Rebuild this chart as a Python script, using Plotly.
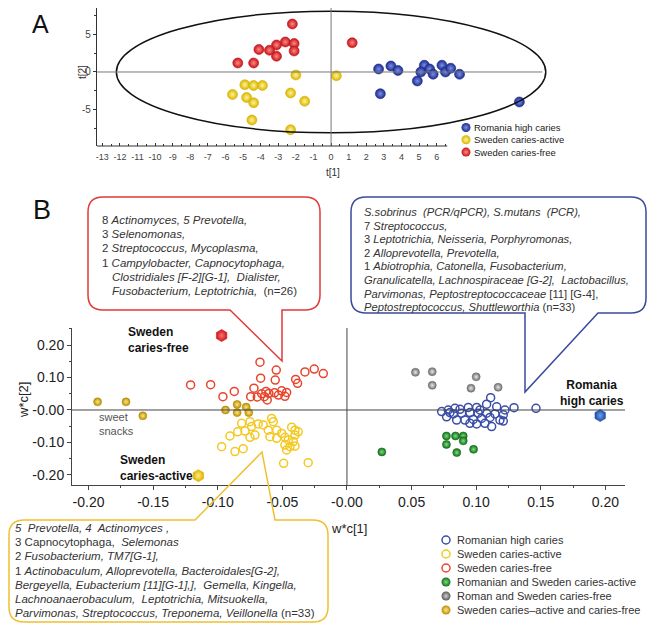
import plotly.graph_objects as go

W, H = 655, 626
OFF = 8  # page body margin of the browser
FONT = "Liberation Sans, Arial, sans-serif"

# ---------------- Panel A data (scores) ----------------
a_red_x = [-2.2, 1.2, -2.6, -2.1, -3.1, -4.1, -3.5, -2.1, -3.1, -5.3, -4.4]
a_red_y = [6.4, 3.9, 4.0, 3.8, 3.6, 3.0, 2.9, 2.8, 2.1, 1.2, 1.2]
a_yel_x = [-2.0, 0.3, -4.9, -4.4, -3.9, -5.6, -4.8, -4.4, -2.3, -1.5, -4.5, -2.3]
a_yel_y = [-0.4, -0.5, -1.7, -1.8, -1.8, -3.0, -3.4, -4.1, -2.8, -3.9, -6.4, -7.7]
a_blu_x = [2.7, 3.4, 3.8, 5.3, 5.1, 5.6, 5.8, 6.3, 6.5, 6.8, 7.3, 4.9, 2.8, 10.7]
a_blu_y = [0.4, 0.8, 0.2, 0.9, 0.0, 0.4, -0.3, 0.9, 0.0, 0.5, -0.3, -1.2, -2.9, -4.0]
a_xticks = list(range(-13, 7))
a_yticks = [-5, 0, 5]
ellipse_ax, ellipse_ay = 12.2, 8.1

# ---------------- Panel B data (loadings) ----------------
b_rom_x = [0.0733, 0.0784, 0.0836, 0.0875, 0.0939, 0.1004, 0.1081, 0.1159, 0.1223, 0.0823, 0.0888,
           0.0952, 0.1016, 0.1081, 0.1146, 0.1210, 0.0771, 0.0849, 0.0913, 0.0978, 0.1042, 0.1107,
           0.1184, 0.0952, 0.1004, 0.1068, 0.1120, 0.1210, 0.0797, 0.1029, 0.1112, 0.1293, 0.1463]
b_rom_y = [-0.005, 0.000, 0.005, 0.002, 0.008, 0.008, 0.018, 0.010, 0.000, -0.012, -0.010,
           -0.008, -0.010, -0.010, -0.012, -0.015, -0.021, -0.031, -0.031, -0.029, -0.026, -0.023,
           -0.031, -0.041, -0.043, -0.041, -0.051, -0.034, -0.008, 0.000, 0.038, 0.007, 0.005]
b_swa_x = [-0.0815, -0.0751, -0.0687, -0.0738, -0.0789, -0.0846, -0.0906, -0.0970, -0.0867, -0.0803,
           -0.0648, -0.0583, -0.0570, -0.0609, -0.0544, -0.0505, -0.0544, -0.0480, -0.0428, -0.0402,
           -0.0377, -0.0402, -0.0454, -0.0415, -0.0480, -0.0441, -0.0402, -0.0596, -0.0712, -0.0751,
           -0.0490, -0.0300, -0.0467]
b_swa_y = [-0.041, -0.036, -0.043, -0.051, -0.065, -0.067, -0.080, -0.113, -0.128, -0.119,
           -0.046, -0.026, -0.036, -0.062, -0.062, -0.072, -0.087, -0.084, -0.053, -0.062,
           -0.067, -0.077, -0.092, -0.097, -0.108, -0.113, -0.111, -0.082, -0.077, -0.084,
           -0.164, -0.162, -0.123]
b_swf_x = [-0.0673, -0.0547, -0.0668, -0.0555, -0.1210, -0.1055, -0.0960, -0.0872, -0.0720, -0.0745,
           -0.0694, -0.0627, -0.0617, -0.0604, -0.0560, -0.0505, -0.0467, -0.0480, -0.0397, -0.0382,
           -0.0325, -0.0253, -0.0183, -0.0640, -0.0660, -0.0530]
b_swf_y = [0.147, 0.123, 0.098, 0.092, 0.077, 0.078, 0.041, 0.057, 0.067, 0.041,
           0.040, 0.057, 0.031, 0.051, 0.053, 0.059, 0.054, 0.042, 0.094, 0.082,
           0.117, 0.126, 0.112, 0.041, 0.050, 0.046]
b_grn_x = [0.027, 0.077, 0.084, 0.090, 0.077, 0.090, 0.085, 0.098]
b_grn_y = [-0.129, -0.080, -0.080, -0.080, -0.106, -0.095, -0.131, -0.121]
b_gry_x = [0.053, 0.066, 0.066, 0.100, 0.096, 0.117]
b_gry_y = [0.116, 0.118, 0.076, 0.102, 0.067, 0.070]
b_gld_x = [-0.193, -0.171, -0.158, -0.094, -0.085, -0.078, -0.085, -0.076]
b_gld_y = [0.025, 0.025, -0.018, 0.000, 0.017, 0.009, -0.008, -0.008]
hex_names = ["Sweden<br>caries-free", "Sweden<br>caries-active", "Romania<br>high caries"]
hex_x = [-0.097, -0.115, 0.196]
hex_y = [0.229, -0.202, -0.017]
b_xticks = [-0.20, -0.15, -0.10, -0.05, 0.0, 0.05, 0.10, 0.15, 0.20]
b_xticktext = ["-0.20", "-0.15", "-0.10", "-0.05", "-0.00", "0.05", "0.10", "0.15", "0.20"]
b_yticks = [-0.20, -0.10, 0.0, 0.10, 0.20]
b_yticktext = ["-0.20", "-0.10", "-0.00", "0.10", "0.20"]

legend_a = ["Romania high caries", "Sweden caries-active", "Sweden caries-free"]
legend_b = ["Romanian high caries", "Sweden caries-active", "Sweden caries-free",
            "Romanian and Sweden caries-active", "Roman and Sweden caries-free",
            "Sweden caries\u2013active and caries-free"]

red_lines = ["8 <i>Actinomyces, 5 Prevotella,</i>", "3 <i>Selenomonas,</i>",
             "2 <i>Streptococcus, Mycoplasma,</i>", "1 <i>Campylobacter, Capnocytophaga,</i>",
             "<i>Clostridiales [F-2][G-1],  Dialister,</i>",
             "<i>Fusobacterium, Leptotrichia,</i>  (n=26)"]
red_indent = [0, 0, 0, 0, 1, 1]
blue_lines = ["<i>S.sobrinus  (PCR/qPCR), S.mutans  (PCR),</i>", "7 <i>Streptococcus,</i>",
              "3 <i>Leptotrichia, Neisseria, Porphyromonas,</i>", "2 <i>Alloprevotella, Prevotella,</i>",
              "1 <i>Abiotrophia, Catonella, Fusobacterium,</i>",
              "<i>Granulicatella, Lachnospiraceae [G-2],  Lactobacillus,</i>",
              "<i>Parvimonas, Peptostreptococcaceae</i> [11] [G-4],",
              "<i>Peptostreptococcus, Shuttleworthia</i> (n=33)"]
yel_lines = ["<i>5  Prevotella, 4  Actinomyces ,</i>", "3 Capnocytophaga,  <i>Selemonas</i>",
             "2 <i>Fusobacterium, TM7[G-1],</i>",
             "1 <i>Actinobaculum, Alloprevotella, Bacteroidales[G-2],</i>",
             "<i>Bergeyella, Eubacterium [11][G-1],],  Gemella, Kingella,</i>",
             "<i>Lachnoanaerobaculum,  Leptotrichia, Mitsuokella,</i>",
             "<i>Parvimonas, Streptococcus, Treponema, Veillonella</i> (n=33)"]


def fx(px):
    return min(1.0, max(0.0, (px - OFF) / W))


def fy(py):
    return min(1.0, max(0.0, 1 - (py - OFF) / H))


def sphere(base, hi, size, edge=None):
    return dict(color=base, size=size, gradient=dict(type="radial", color=hi),
                line=dict(color=edge or base, width=0.6))


RED_S = ("#c3141c", "#ff8a80")
YEL_S = ("#d9b400", "#fff59a")
BLU_S = ("#1c2c8c", "#7d8ee8")
GRN_S = ("#12701a", "#7fdc7f")
GRY_S = ("#707070", "#e8e8e8")
GLD_S = ("#b88f08", "#ffe680")
OPEN_B, OPEN_Y, OPEN_R = "#3a4ea8", "#f4c820", "#e8442c"

fig = go.Figure()

# Panel A
for xs, ys, col, nm in [(a_blu_x, a_blu_y, BLU_S, legend_a[0]),
                        (a_yel_x, a_yel_y, YEL_S, legend_a[1]),
                        (a_red_x, a_red_y, RED_S, legend_a[2])]:
    fig.add_trace(go.Scatter(x=xs, y=ys, mode="markers", name=nm, showlegend=False,
                             marker=sphere(col[0], col[1], 10), xaxis="x", yaxis="y"))


# Panel B
def openc(xs, ys, col, nm):
    fig.add_trace(go.Scatter(x=xs, y=ys, mode="markers", name=nm, showlegend=False,
                             marker=dict(symbol="circle-open", size=8, color=col,
                                         line=dict(width=1.5, color=col)),
                             xaxis="x2", yaxis="y2"))


openc(b_rom_x, b_rom_y, OPEN_B, legend_b[0])
openc(b_swa_x, b_swa_y, OPEN_Y, legend_b[1])
openc(b_swf_x, b_swf_y, OPEN_R, legend_b[2])
for xs, ys, col, nm in [(b_grn_x, b_grn_y, GRN_S, legend_b[3]),
                        (b_gry_x, b_gry_y, GRY_S, legend_b[4]),
                        (b_gld_x, b_gld_y, GLD_S, legend_b[5])]:
    fig.add_trace(go.Scatter(x=xs, y=ys, mode="markers", name=nm, showlegend=False,
                             marker=sphere(col[0], col[1], 8), xaxis="x2", yaxis="y2"))
hex_cols = [("#d01818", "#ff7070"), ("#e0b000", "#fff080"), ("#1f4fa8", "#6f9fe8")]
fig.add_trace(go.Scatter(x=hex_x, y=hex_y, mode="markers", showlegend=False,
                         marker=dict(symbol="hexagon", size=12, color=[c[0] for c in hex_cols],
                                     gradient=dict(type="radial", color=[c[1] for c in hex_cols]),
                                     line=dict(width=0.6, color=[c[0] for c in hex_cols])),
                         xaxis="x2", yaxis="y2"))

# Legend markers on an overlay pixel axis
leg_a_y = [127.5 + 12.3 * i for i in range(3)]
fig.add_trace(go.Scatter(x=[466] * 3, y=leg_a_y, mode="markers", showlegend=False,
                         marker=dict(size=9, color=[BLU_S[0], YEL_S[0], RED_S[0]],
                                     gradient=dict(type="radial", color=[BLU_S[1], YEL_S[1], RED_S[1]])),
                         xaxis="x3", yaxis="y3"))
leg_b_y = [540 + 14 * i for i in range(6)]
fig.add_trace(go.Scatter(x=[446] * 3, y=leg_b_y[:3], mode="markers", showlegend=False,
                         marker=dict(symbol="circle-open", size=8, color=[OPEN_B, OPEN_Y, OPEN_R],
                                     line=dict(width=1.5)),
                         xaxis="x3", yaxis="y3"))
fig.add_trace(go.Scatter(x=[446] * 3, y=leg_b_y[3:], mode="markers", showlegend=False,
                         marker=dict(size=9, color=[GRN_S[0], "#5a5a5a", GLD_S[0]],
                                     gradient=dict(type="radial", color=[GRN_S[1], "#d0d0d0", GLD_S[1]])),
                         xaxis="x3", yaxis="y3"))

shapes = []
# Panel A ellipse and cross lines
shapes.append(dict(type="circle", xref="x", yref="y", x0=-ellipse_ax, x1=ellipse_ax,
                   y0=-ellipse_ay, y1=ellipse_ay, line=dict(color="#111", width=1.5)))
shapes.append(dict(type="line", xref="x", yref="y", x0=-13.3, x1=12.0, y0=0, y1=0,
                   line=dict(color="#777", width=1)))
shapes.append(dict(type="line", xref="x", yref="y domain", x0=0, x1=0, y0=0, y1=1,
                   line=dict(color="#777", width=1)))
shapes.append(dict(type="line", xref="x", yref="y domain", x0=-13.3, x1=6.6, y0=0, y1=0,
                   line=dict(color="#333", width=1.2)))
# Panel B cross lines
shapes.append(dict(type="line", xref="x2 domain", yref="y2", x0=0, x1=1, y0=0, y1=0,
                   line=dict(color="#444", width=1)))
shapes.append(dict(type="line", xref="x2", yref="y2 domain", x0=0, x1=0, y0=0, y1=1,
                   line=dict(color="#444", width=1)))


def P(px, py):
    return f"{fx(px):.5f},{fy(py):.5f}"


def callout(l, t, r, b, rad, side, tl, tip, tr):
    path = f"M {P(l + rad, t)} "
    if side == "top":
        path += f"L {P(tl, t)} L {P(*tip)} L {P(tr, t)} "
    path += f"L {P(r - rad, t)} Q {P(r, t)} {P(r, t + rad)} L {P(r, b - rad)} Q {P(r, b)} {P(r - rad, b)} "
    if side == "bottom":
        path += f"L {P(tr, b)} L {P(*tip)} L {P(tl, b)} "
    path += f"L {P(l + rad, b)} Q {P(l, b)} {P(l, b - rad)} L {P(l, t + rad)} Q {P(l, t)} {P(l + rad, t)} Z"
    return path


shapes.append(dict(type="path", xref="paper", yref="paper", layer="above",
                   path=callout(88, 197, 320, 310, 15, "bottom", 230, (282, 361), 282),
                   line=dict(color="#e03a3a", width=1.5), fillcolor="rgba(0,0,0,0)"))
shapes.append(dict(type="path", xref="paper", yref="paper", layer="above",
                   path=callout(351, 197, 646, 313, 15, "bottom", 525, (525, 392), 598),
                   line=dict(color="#3a4a9c", width=1.5), fillcolor="rgba(0,0,0,0)"))
shapes.append(dict(type="path", xref="paper", yref="paper", layer="above",
                   path=callout(9, 520, 328, 622, 15, "top", 195, (262, 452), 275),
                   line=dict(color="#f0c030", width=1.5), fillcolor="rgba(0,0,0,0)"))

ann = []


def txt(px, py, s, size=11.5, color="#333", xanchor="left", bold=False, angle=0, align="left",
        yanchor="middle"):
    ann.append(dict(xref="paper", yref="paper", x=fx(px), y=fy(py), text=f"<b>{s}</b>" if bold else s,
                    showarrow=False, xanchor=xanchor, yanchor=yanchor, align=align, textangle=angle,
                    font=dict(family=FONT, size=size, color=color)))


txt(40, OFF, "A", size=25, color="#111", xanchor="center", yanchor="top")
txt(42, 210, "B", size=27, color="#111", xanchor="center")
txt(333, 172, "t[1]", size=10, color="#333", xanchor="center")
txt(82, 72, "t[2]", size=10, color="#333", xanchor="center", angle=-90)
txt(349, 528, "w*c[1]", size=13, color="#222", xanchor="center")
txt(23, 400, "w*c[2]", size=13, color="#222", xanchor="center", angle=-90)
txt(97, 424, "sweet<br>snacks", size=11, color="#555")

# hexagon labels placed relative to data points via axis refs
hex_lab_dx = [-0.074, -0.062, -0.006]
hex_lab_dy = [-0.013, 0.022, 0.070]
hex_anchor = ["left", "left", "center"]
for nm, hx, hy, dx, dy, anc in zip(hex_names, hex_x, hex_y, hex_lab_dx, hex_lab_dy, hex_anchor):
    ann.append(dict(xref="x2", yref="y2", x=hx + dx, y=hy + dy, text=f"<b>{nm}</b>", showarrow=False,
                    xanchor=anc, yanchor="middle", align=anc if anc != "center" else "center",
                    font=dict(family=FONT, size=12, color="#111")))

for i, s in enumerate(red_lines):
    txt(100 + 10 * red_indent[i], 220 + 14.2 * i, s)
for i, s in enumerate(blue_lines):
    txt(362, 212 + 13.6 * i, s, size=11.2)
for i, s in enumerate(yel_lines):
    txt(13, 528 + 14.2 * i, s)
for i, s in enumerate(legend_a):
    txt(472, leg_a_y[i], s, size=9.5, color="#222")
for i, s in enumerate(legend_b):
    txt(455, leg_b_y[i], s, size=11, color="#333")

a_top_px = OFF
a_y_top = (72 - a_top_px) / 7.5

fig.update_layout(
    width=W, height=H, margin=dict(l=0, r=0, t=0, b=0),
    paper_bgcolor="white", plot_bgcolor="rgba(0,0,0,0)",
    font=dict(family=FONT, color="#333"),
    shapes=shapes, annotations=ann, showlegend=False,
    xaxis=dict(domain=[fx(97), fx(550)], range=[-13.3, 12.44], anchor="y",
               tickmode="array", tickvals=a_xticks, ticktext=[str(v) for v in a_xticks],
               ticks="inside", ticklen=3, tickcolor="#333", showline=False, zeroline=False,
               showgrid=False, tickfont=dict(size=9, color="#444"), ticklabelstandoff=4,
               minor=dict(tickmode="array", tickvals=[v + 0.5 for v in range(-14, 7)],
                          ticks="inside", ticklen=2, tickcolor="#333"), fixedrange=True),
    yaxis=dict(domain=[fy(146), fy(a_top_px)], range=[-9.87, a_y_top], anchor="x",
               tickmode="array", tickvals=a_yticks, ticktext=[str(v) for v in a_yticks],
               ticks="outside", ticklen=3, tickcolor="#333", showline=True, linecolor="#333",
               linewidth=1.2, zeroline=False, showgrid=False, tickfont=dict(size=10, color="#444"),
               minor=dict(tickmode="array", tickvals=[-7.5, -2.5, 2.5, 7.5], ticks="outside",
                          ticklen=2, tickcolor="#333"), fixedrange=True),
    xaxis2=dict(domain=[fx(72), fx(625)], range=[-0.2128, 0.2152], anchor="y2",
                tickmode="array", tickvals=b_xticks, ticktext=b_xticktext,
                ticks="outside", ticklen=4, tickcolor="#444", showline=True, linecolor="#444",
                zeroline=False, showgrid=False, tickfont=dict(size=14, color="#222"),
                minor=dict(tickmode="array", tickvals=[-0.175, -0.125, -0.075, -0.025, 0.025,
                                                       0.075, 0.125, 0.175],
                           ticks="outside", ticklen=2, tickcolor="#444"), fixedrange=True),
    yaxis2=dict(domain=[fy(485), fy(328)], range=[-0.2308, 0.2523], anchor="x2",
                tickmode="array", tickvals=b_yticks, ticktext=b_yticktext,
                ticks="outside", ticklen=4, tickcolor="#444", showline=True, linecolor="#444",
                zeroline=False, showgrid=False, tickfont=dict(size=14, color="#222"),
                minor=dict(tickmode="array", tickvals=[-0.15, -0.05, 0.05, 0.15, 0.25],
                           ticks="outside", ticklen=2, tickcolor="#444"), fixedrange=True),
    xaxis3=dict(domain=[0, 1], range=[OFF, W + OFF], anchor="y3", visible=False, fixedrange=True),
    yaxis3=dict(domain=[0, 1], range=[H + OFF, OFF], anchor="x3", visible=False, fixedrange=True),
)

fig.write_html("out.html")
